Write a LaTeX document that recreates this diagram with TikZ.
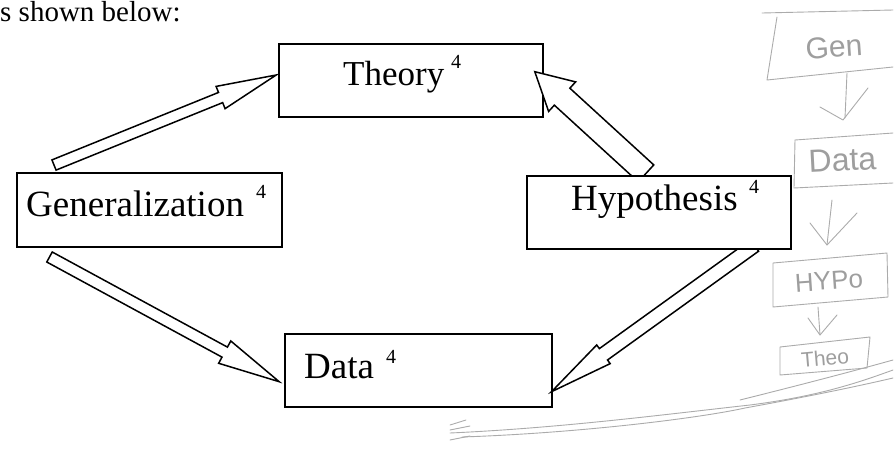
\documentclass[tikz,border=0pt]{standalone}
\usepackage{fontspec}
\setmainfont{Liberation Serif}
\newfontfamily\handfont{Liberation Sans}
\usetikzlibrary{calc}
% block (hollow) arrow: tail, tip, shaft half width, head half width, head length
\newcommand{\myblockarrow}[5]{%
  \coordinate (#1#2base) at ($(#2)!#5!(#1)$);
  \draw[barrow] ($(#1)!#3!90:(#2)$) -- ($(#1#2base)!#3!90:(#2)$)
    -- ($(#1#2base)!#4!90:(#2)$) -- (#2)
    -- ($(#1#2base)!#4!-90:(#2)$) -- ($(#1#2base)!#3!-90:(#2)$)
    -- ($(#1)!#3!-90:(#2)$) -- cycle;}
\begin{document}
\begin{tikzpicture}[x=1pt,y=-1pt,
  box/.style={draw=black, line width=1.6pt, fill=white, rectangle, inner sep=0pt},
  barrow/.style={draw=black, line width=1.5pt, fill=white, line join=miter},
  lbl/.style={anchor=base west, inner sep=0pt, font=\fontsize{37}{40}\selectfont},
  suplbl/.style={anchor=base west, inner sep=0pt, font=\fontsize{20}{22}\selectfont},
  hand/.style={draw=black!33, line width=0.9pt, line cap=round, line join=round},
  handtext/.style={text=black!38, inner sep=0pt}
]
\useasboundingbox (0,0) rectangle (895,448);

% intro text
\node[anchor=base west, inner sep=0pt, font=\fontsize{29}{32}\selectfont] (intro) at (0,21) {s shown below:};

% boxes
\node[box, minimum width=264pt, minimum height=73pt] (theory) at (411,80.5) {};
\node[box, minimum width=265pt, minimum height=74pt] (gen) at (149.5,210) {};
\node[box, minimum width=267pt, minimum height=73pt] (data) at (418.5,370.5) {};
\path (659,212.5) node[minimum width=264pt, minimum height=73pt] (hypp) {};

% arrow end points
\coordinate (a1s) at (54,165);
\coordinate (a1e) at ($(theory.west)+(-2,-5.5)$);
\coordinate (a2s) at ($(hypp.north)+(-13,-2.4)$);
\coordinate (a2e) at ($(theory.east)+(-9,-8.8)$);
\coordinate (a3s) at (49.5,257);
\coordinate (a3e) at ($(data.west)+(-5,11.2)$);
\coordinate (a4s) at ($(hypp.south)+(95.5,-3.7)$);
\coordinate (a4e) at ($(data.east)+(-1.3,21.2)$);

\myblockarrow{a1s}{a1e}{5.5pt}{12pt}{60pt}
\myblockarrow{a2s}{a2e}{11.5pt}{20pt}{37pt}
\myblockarrow{a3s}{a3e}{5.7pt}{12.7pt}{62pt}
\myblockarrow{a4s}{a4e}{7pt}{11.5pt}{64pt}

% hypothesis box drawn over the arrow tails
\node[box, minimum width=264pt, minimum height=73pt] (hyp) at (hypp) {};

% labels
\node[lbl, font=\fontsize{35}{38}\selectfont] (ttheory) at (343,85) {Theory};
\node[suplbl] (stheory) at (451,68) {4};
\node[lbl] (tgen) at (26,216) {Generalization};
\node[suplbl] (sgen) at (256,198) {4};
\node[lbl] (thyp) at (571,210) {Hypothesis};
\node[suplbl] (shyp) at (749,193) {4};
\node[lbl] (tdata) at (304,378) {Data};
\node[suplbl] (sdata) at (386,363) {4};

% pencil notes on the right
\draw[hand] (762,13) -- (893,10);
\draw[hand] (777,17) -- (767,80) -- (893,67);
\node[handtext, font=\handfont\fontsize{30}{32}\selectfont, rotate=4] (hgen) at (834,47) {Gen};
\draw[hand] (847,73) -- (845,118);
\draw[hand] (820,107) -- (843,120) -- (868,88);
\draw[hand] (795,140) -- (893,133);
\draw[hand] (795,140) -- (794,188) -- (893,183);
\node[handtext, anchor=base west, font=\handfont\fontsize{32}{34}\selectfont, rotate=3] (hdata) at (809,173) {Data};
\draw[hand] (832,200) -- (827,245);
\draw[hand] (810,223) -- (827,245) -- (857,213);
\draw[hand] (773,263) -- (887,253) -- (888,297) -- (773,307) -- cycle;
\node[handtext, font=\handfont\fontsize{26}{28}\selectfont, rotate=4] (hhyp) at (829,281) {HYPo};
\draw[hand] (818,307) -- (820,335);
\draw[hand] (808,318) -- (820,335) -- (837,315);
\draw[hand] (780,347) -- (870,337) -- (867,368) -- (780,375) -- cycle;
\node[handtext, font=\handfont\fontsize{21}{23}\selectfont, rotate=5] (htheo) at (825,358) {Theo};
\draw[hand] (450,433) .. controls (560,428) and (660,415) .. (750,405) .. controls (820,396) and (860,382) .. (893,370);
\draw[hand] (462,437) .. controls (580,433) and (700,418) .. (745,408) .. controls (800,398) and (850,388) .. (893,378);
\draw[hand] (740,400) .. controls (800,385) and (850,372) .. (893,360);
\draw[hand] (450,425) -- (466,420);
\draw[hand] (450,430) -- (470,426);
\draw[hand] (450,440) -- (470,436);
\end{tikzpicture}
\end{document}
